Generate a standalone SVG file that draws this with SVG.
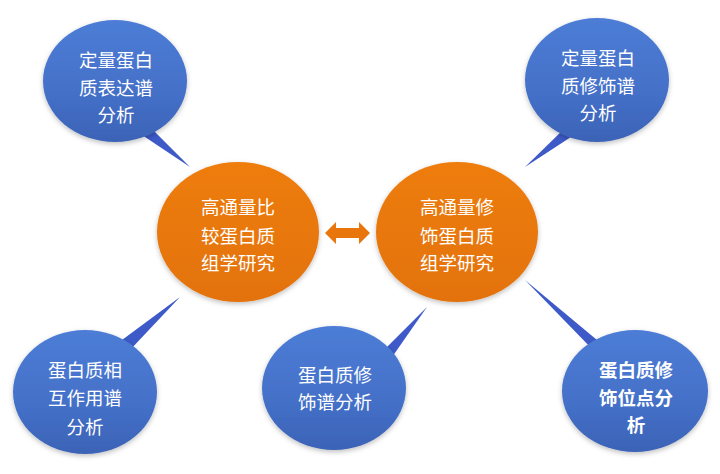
<svg xmlns="http://www.w3.org/2000/svg" width="720" height="474" viewBox="0 0 720 474">
<defs>
<linearGradient id="gBlue" x1="0" y1="0" x2="0" y2="1">
<stop offset="0" stop-color="#4d7dd6"/>
<stop offset="0.6" stop-color="#4470c8"/>
<stop offset="1" stop-color="#3b63b6"/>
</linearGradient>
<linearGradient id="gOrange" x1="0" y1="0" x2="0" y2="1">
<stop offset="0" stop-color="#ee7d0e"/>
<stop offset="1" stop-color="#e3720a"/>
</linearGradient>
<linearGradient id="gTail" x1="0" y1="0" x2="1" y2="0">
<stop offset="0" stop-color="#3a55c6"/>
<stop offset="1" stop-color="#5a78d8"/>
</linearGradient>
<filter id="sh" x="-20%" y="-20%" width="140%" height="150%">
<feDropShadow dx="0" dy="2" stdDeviation="2.5" flood-color="#000" flood-opacity="0.25"/>
</filter>
</defs>
<style>
.blue{fill:url(#gBlue);filter:url(#sh)}
.orange{fill:url(#gOrange);filter:url(#sh)}
.tail{fill:#3d5ac8}
text{font-family:"Noto Sans CJK SC","Noto Sans",sans-serif;fill:#fff;font-size:18.5px;text-anchor:middle}
.b{font-weight:bold}
</style>
<rect width="720" height="474" fill="#fff"/>
<g id="connectors">
<polygon class="tail" points="142,135 150,127 190,167"/>
<polygon class="tail" points="566,127 574,135 525,167"/>
<polygon class="tail" points="122,340 130,350 180,297"/>
<polygon class="tail" points="382,352 390,360 427,307"/>
<polygon class="tail" points="596,353 603,345 525,280"/>
<path id="double-arrow" d="M325,233 L336,222 L336,228 L359,228 L359,222 L370,233 L359,244 L359,238 L336,238 L336,244 Z" fill="#e9760c"/>
</g>
<g id="n-tl">
<ellipse class="blue" cx="115" cy="81" rx="72" ry="61"/>
<text x="116" y="67">定量蛋白</text>
<text x="116" y="95">质表达谱</text>
<text x="116" y="122">分析</text>
</g>
<g id="n-tr">
<ellipse class="blue" cx="597" cy="80" rx="72" ry="62"/>
<text x="598" y="65">定量蛋白</text>
<text x="598" y="93">质修饰谱</text>
<text x="598" y="120">分析</text>
</g>
<g id="n-left">
<ellipse class="orange" cx="238" cy="232" rx="81" ry="70"/>
<text x="238" y="214">高通量比</text>
<text x="238" y="243">较蛋白质</text>
<text x="238" y="270">组学研究</text>
</g>
<g id="n-right">
<ellipse class="orange" cx="457" cy="232" rx="81" ry="70"/>
<text x="457" y="214">高通量修</text>
<text x="457" y="243">饰蛋白质</text>
<text x="457" y="270">组学研究</text>
</g>
<g id="n-bl">
<ellipse class="blue" cx="85" cy="392" rx="72" ry="62"/>
<text x="85" y="377">蛋白质相</text>
<text x="85" y="405">互作用谱</text>
<text x="85" y="434">分析</text>
</g>
<g id="n-bm">
<ellipse class="blue" cx="334" cy="388" rx="72" ry="62"/>
<text x="335" y="382">蛋白质修</text>
<text x="335" y="409">饰谱分析</text>
</g>
<g id="n-br">
<ellipse class="blue" cx="635" cy="391" rx="73" ry="61"/>
<text class="b" x="636" y="377">蛋白质修</text>
<text class="b" x="636" y="405">饰位点分</text>
<text class="b" x="636" y="432">析</text>
</g>
</svg>
